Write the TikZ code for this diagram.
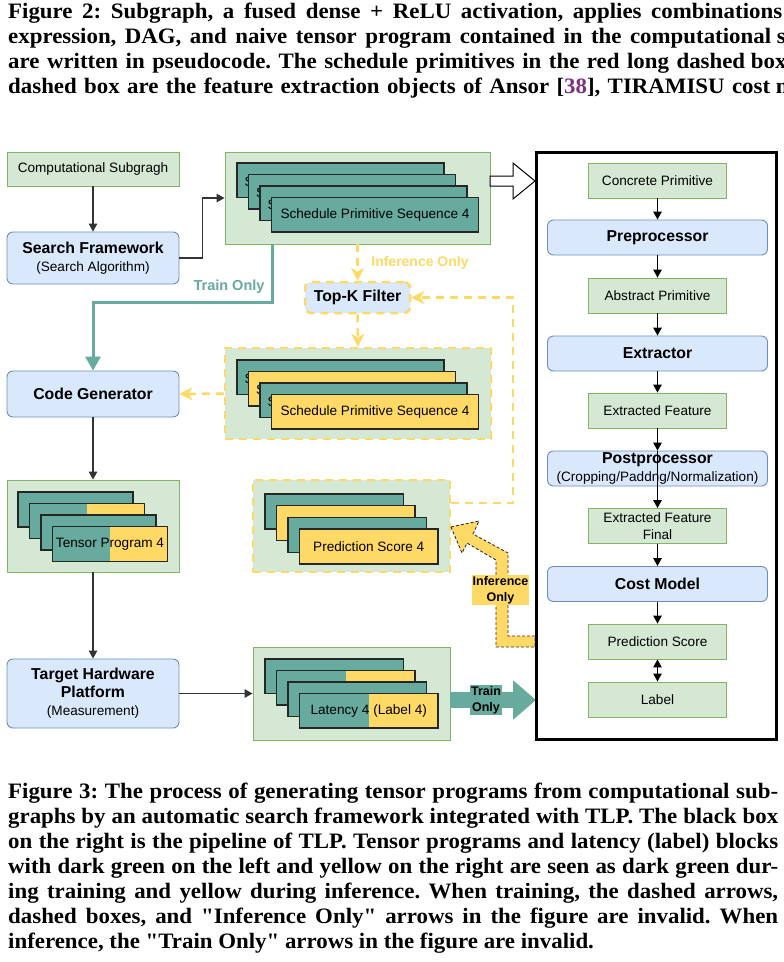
\documentclass[tikz,border=0pt]{standalone}
\usepackage{fontspec}
\setmainfont{Liberation Sans}
\newfontfamily\capfont[FakeStretch=1.04]{Liberation Serif}
\usetikzlibrary{arrows.meta}
\definecolor{tealc}{HTML}{67AB9F}
\definecolor{yel}{HTML}{FFD966}
\definecolor{grnF}{HTML}{D5E8D4}
\definecolor{grnB}{HTML}{82B366}
\definecolor{bluF}{HTML}{DAE8FC}
\definecolor{bluB}{HTML}{6C8EBF}
\definecolor{acmpurple}{RGB}{125,48,130}
\newcommand\regf{\fontsize{13.6}{16.5}\selectfont\mdseries}
\newcommand\bigbf{\fontsize{15.8}{18}\selectfont\bfseries}
\newcommand\capf{\capfont\bfseries\fontsize{22}{25}\selectfont\frenchspacing}
% front card: name, left, top, width, height, left fill, right fill, text
\newcommand\mkcard[8]{%
  \fill[#6] (#2,#3) rectangle ({#2+#4/2},{#3+#5});
  \fill[#7] ({#2+#4/2},#3) rectangle ({#2+#4},{#3+#5});
  \node[cardframe, sz={#4}{#5}, anchor=north west] (#1) at (#2,#3) {#8};}
% back card: same, the text is only the fragment that shows at its left
\newcommand\mkback[8]{%
  \fill[#6] (#2,#3) rectangle ({#2+#4/2},{#3+#5});
  \fill[#7] ({#2+#4/2},#3) rectangle ({#2+#4},{#3+#5});
  \node[cardframe, sz={#4}{#5}, anchor=north west] (#1) at (#2,#3) {};
  \node[font=\regf, inner sep=0pt, anchor=west] (#1t) at ({#2+7.5},{#3+#5/2+1.5}) {#8};}
\begin{document}
\begin{tikzpicture}[x=1pt,y=-1pt,
  sz/.style 2 args={minimum width=#1pt,minimum height=#2pt},
  greenbox/.style={draw=grnB, fill=grnF, line width=0.9pt, inner sep=0pt, font=\regf, align=center},
  bluebox/.style={draw=bluB, fill=bluF, line width=0.9pt, rounded corners=6pt, inner sep=0pt, font=\bigbf, align=center},
  grp/.style={draw=grnB, fill=grnF, line width=0.9pt, inner sep=0pt},
  dgrp/.style={draw=yel, fill=grnF, line width=2.5pt, dash pattern=on 8pt off 6pt, inner sep=0pt},
  cardframe/.style={draw=black!85, line width=1.1pt, inner sep=0pt, outer sep=0pt, font=\regf},
  arr/.style={draw=black!80, line width=1.2pt, -{Triangle[length=8pt,width=8.5pt]}},
  rarr/.style={draw=black, line width=1.2pt, -{Triangle[length=8pt,width=8.5pt]}},
  yarr/.style={draw=yel, line width=2.5pt, dash pattern=on 8pt off 6pt, -{Stealth[length=13pt,width=13pt,inset=4pt]}},
  tarr/.style={draw=tealc, line width=3pt, -{Triangle[length=14pt,width=15pt]}},
  capline/.style={anchor=base west, inner sep=0pt, font=\capf},
  blabel/.style={font=\bfseries\fontsize{12.5}{16}\selectfont, align=center, inner sep=1pt}
]
\useasboundingbox (0,0) rectangle (784,962);
\fill[white] (0,0) rectangle (784,962);

% ---------- top caption (cut off at the right) ----------
\begin{scope}
\clip (0,0) rectangle (784,962);
\node[capline] (t1) at (8,18.5) {\makebox[774pt][s]{Figure 2: Subgraph, a fused dense + ReLU activation, applies combinations}\ of};
\node[capline] (t2) at (8,43.5) {\makebox[763pt][s]{expression, DAG, and naive tensor program contained in the computational}\ subgraph};
\node[capline] (t3) at (8,68.5) {\makebox[737pt][s]{are written in pseudocode. The schedule primitives in the red long dashed}\ box};
\node[capline] (t4) at (8,93.5) {\makebox[762pt][s]{dashed box are the feature extraction objects of Ansor [\textcolor{acmpurple}{38}], TIRAMISU cost}\ model};
\end{scope}

% ---------- left column ----------
\node[greenbox, sz={172}{34}] (cs) at (93,169) {Computational Subgragh};
\node[bluebox, sz={172}{52}] (sf) at (93,258) {Search Framework\\{\regf (Search Algorithm)}};
\node[bluebox, sz={172}{46}] (cg) at (93,394) {Code Generator};
\node[bluebox, sz={172}{69}] (thp) at (93,693.5) {Target Hardware\\Platform\\{\regf (Measurement)}};

% ---------- groups ----------
\node[grp, sz={265}{92}] (sg1) at (357.5,198) {};
\mkback{sa1}{237}{163}{207}{34.5}{tealc}{tealc}{S}
\mkback{sa2}{248.5}{174.5}{207}{34.5}{tealc}{tealc}{S}
\mkback{sa3}{260}{186}{207}{34.5}{tealc}{tealc}{S}
\mkcard{sa4}{271.5}{197.5}{207}{34.5}{tealc}{tealc}{Schedule Primitive Sequence 4}

\node[bluebox, draw=yel, line width=2.5pt, dash pattern=on 8pt off 6pt, sz={105}{31}] (topk) at (357.5,297.5) {Top-K Filter};

\node[dgrp, sz={266}{91}] (sg2) at (358,393.5) {};
\mkback{sb1}{237}{360}{207}{34.5}{tealc}{tealc}{S}
\mkback{sb2}{248.5}{371.5}{207}{34.5}{yel}{yel}{S}
\mkback{sb3}{260}{383}{207}{34.5}{tealc}{tealc}{S}
\mkcard{sb4}{271.5}{394.5}{207}{34.5}{yel}{yel}{Schedule Primitive Sequence 4}

\node[grp, sz={172}{92}] (tg) at (93,526) {};
\mkback{tc1}{18}{492}{115}{35}{tealc}{tealc}{}
\mkback{tc2}{29.5}{503.5}{115}{35}{tealc}{yel}{}
\mkback{tc3}{41}{515}{115}{35}{tealc}{tealc}{}
\mkcard{tc4}{52.5}{526.5}{115}{35}{tealc}{yel}{Tensor Program 4}

\node[dgrp, sz={197}{92}] (pg) at (351.5,526) {};
\mkback{pc1}{265}{494}{138.5}{35}{tealc}{tealc}{}
\mkback{pc2}{276.5}{505.7}{138.5}{35}{yel}{yel}{}
\mkback{pc3}{288}{517.3}{138.5}{35}{tealc}{tealc}{}
\mkcard{pc4}{299.5}{529}{138.5}{35}{yel}{yel}{Prediction Score 4}

\node[grp, sz={197}{93}] (lg) at (351.5,693.5) {};
\mkback{lc1}{265}{659}{138.5}{34.5}{tealc}{tealc}{}
\mkback{lc2}{276.5}{670.5}{138.5}{34.5}{tealc}{yel}{}
\mkback{lc3}{288}{682}{138.5}{34.5}{tealc}{tealc}{}
\mkcard{lc4}{299.5}{693.5}{138.5}{34.5}{tealc}{yel}{Latency 4 (Label 4)}

% ---------- right column (TLP pipeline) ----------
\node[greenbox, sz={138}{35}] (cp) at (657.5,180.5) {Concrete Primitive};
\node[bluebox, sz={220}{35}] (pre) at (657.5,237.5) {Preprocessor};
\node[greenbox, sz={138}{35}] (ap) at (657.5,295.5) {Abstract Primitive};
\node[bluebox, sz={220}{35}] (ext) at (657.5,353.5) {Extractor};
\node[greenbox, sz={138}{35}] (ef) at (657.5,410.5) {Extracted Feature};
\node[bluebox, sz={220}{35}] (post) at (657.5,468.5) {Postprocessor\\{\regf (Cropping/Paddng/Normalization)}};
\node[greenbox, sz={138}{35}] (eff) at (657.5,526) {Extracted Feature\\Final};
\node[bluebox, sz={220}{35}] (cm) at (657.5,584) {Cost Model};
\node[greenbox, sz={138}{35}] (ps) at (657.5,641.5) {Prediction Score};
\node[greenbox, sz={138}{35}] (lab) at (657.5,699.5) {Label};

% ---------- block arrows ----------
\filldraw[fill=white, draw=black, line width=1pt] (490,176) -- (513,176) -- (513,163) -- (535,181) -- (513,199) -- (513,186) -- (490,186) -- cycle;
\filldraw[fill=yel, draw=black!80, line width=0.9pt, dash pattern=on 3pt off 2pt]
  (451,527) -- (479,521) -- (473,534) -- (508,553) -- (508,636) -- (535,636) -- (535,647) -- (496,647) -- (496,560) -- (467,543) -- (462,553) -- cycle;
\node[blabel, fill=yel] (infl) at (500.5,590) {Inference\\Only};
\draw[tealc, line width=16pt, -{Triangle[length=23pt,width=38pt]}] (lg.east |- 0,700) -- (536,700);
\node[blabel, fill=tealc] (trl) at (486,700) {Train\\Only};

% ---------- connectors ----------
\draw[arr] (cs) -- (sf);
\draw[arr] (sf.east) -- ++(23,0) |- (sg1.west);
\coordinate (trs) at (272,244);
\draw[tarr] (trs) -- (272,302) -| (cg.north);
\node[font=\bfseries\fontsize{14.5}{16}\selectfont, text=tealc] (trlab) at (229,287) {Train Only};
\draw[yarr] (sg1.south) -- (topk.north);
\node[font=\bfseries\fontsize{14}{16}\selectfont, text=yel] (inflab) at (420,263) {Inference Only};
\draw[yarr] (topk.south) -- (sg2.north);
\draw[yarr] (pg.east |- 0,503) -- (513,503) |- (topk.east);
\draw[yarr] (sg2.west) -- (cg.east);
\draw[arr] (cg) -- (tg);
\draw[arr] (tg) -- (thp);
\draw[arr] (thp.east) -- (lg.west);

\draw[rarr] (cp) -- (pre);
\draw[rarr] (pre) -- (ap);
\draw[rarr] (ap) -- (ext);
\draw[rarr] (ext) -- (ef);
\draw[rarr] (ef) -- (post);
\draw[rarr] (post.north) -- (eff);
\draw[rarr] (eff) -- (cm);
\draw[rarr] (cm) -- (ps);
\draw[rarr, {Triangle[length=8pt,width=8.5pt]}-{Triangle[length=8pt,width=8.5pt]}] (ps) -- (lab);

\node[draw=black, line width=3pt, sz={240}{587}, inner sep=0pt] (bb) at (656.5,446) {};

% ---------- bottom caption ----------
\node[capline] (c1) at (8,798) {\makebox[770pt][s]{Figure 3: The process of generating tensor programs from computational sub-}};
\node[capline] (c2) at (8,823) {\makebox[770pt][s]{graphs by an automatic search framework integrated with TLP. The black box}};
\node[capline] (c3) at (8,848) {\makebox[770pt][s]{on the right is the pipeline of TLP. Tensor programs and latency (label) blocks}};
\node[capline] (c4) at (8,873) {\makebox[770pt][s]{with dark green on the left and yellow on the right are seen as dark green dur-}};
\node[capline] (c5) at (8,898) {\makebox[770pt][s]{ing training and yellow during inference. When training, the dashed arrows,}};
\node[capline] (c6) at (8,923) {\makebox[770pt][s]{dashed boxes, and "Inference Only" arrows in the figure are invalid. When}};
\node[capline] (c7) at (8,948) {inference, the "Train Only" arrows in the figure are invalid.};
\end{tikzpicture}
\end{document}
